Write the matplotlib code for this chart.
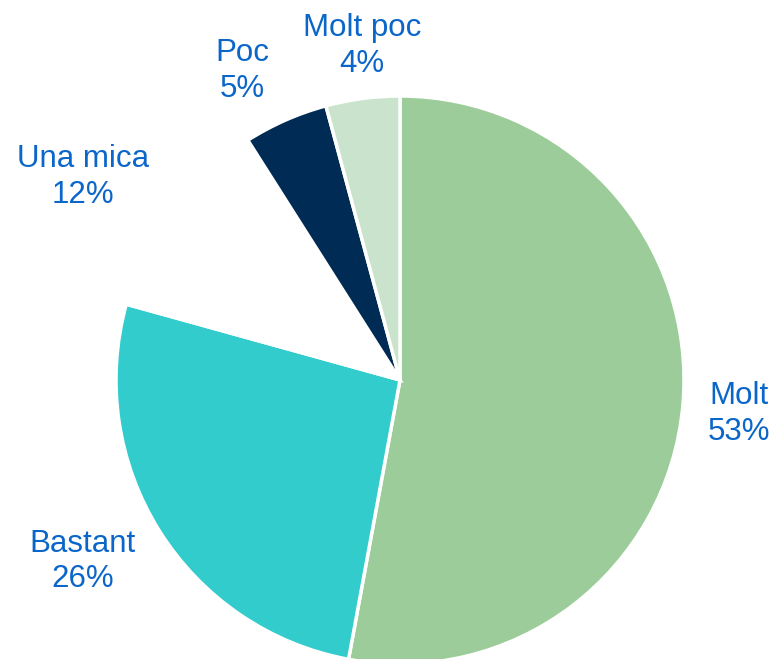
import matplotlib.pyplot as plt

plt.rcParams['font.family'] = ['Liberation Sans', 'DejaVu Sans']

# data (shares; labels show them rounded)
categories = ['Molt', 'Bastant', 'Una mica', 'Poc', 'Molt poc']
shares = [52.9, 26.4, 11.7, 4.8, 4.2]
colors = ['#9CCC9A', '#33CCCC', '#FFFFFF', '#002B55', '#C9E3CC']

# label positions (in pie-radius units, relative to centre)
label_xy = [(1.193, -0.119), (-1.119, -0.639), (-1.116, 0.716),
            (-0.554, 1.088), (-0.133, 1.175)]

W, H = 775, 659
cx, cy, r = 400, 380, 284

fig = plt.figure(figsize=(W / 100, H / 100), dpi=100)
ax = fig.add_axes([0, 0, 1, 1])

ax.pie(shares, colors=colors, startangle=90, counterclock=False,
       radius=1, wedgeprops=dict(edgecolor='white', linewidth=2.5))

for name, val, (x, y) in zip(categories, shares, label_xy):
    ax.text(x, y, f'{name}\n{val:.0f}%', ha='center', va='center',
            fontsize=22.5, color='#0B66C9', linespacing=1.25)

ax.set_xlim(-cx / r, (W - cx) / r)
ax.set_ylim(-(H - cy) / r, cy / r)
ax.set_aspect('equal')
ax.axis('off')

fig.savefig('out.png', dpi=100)
